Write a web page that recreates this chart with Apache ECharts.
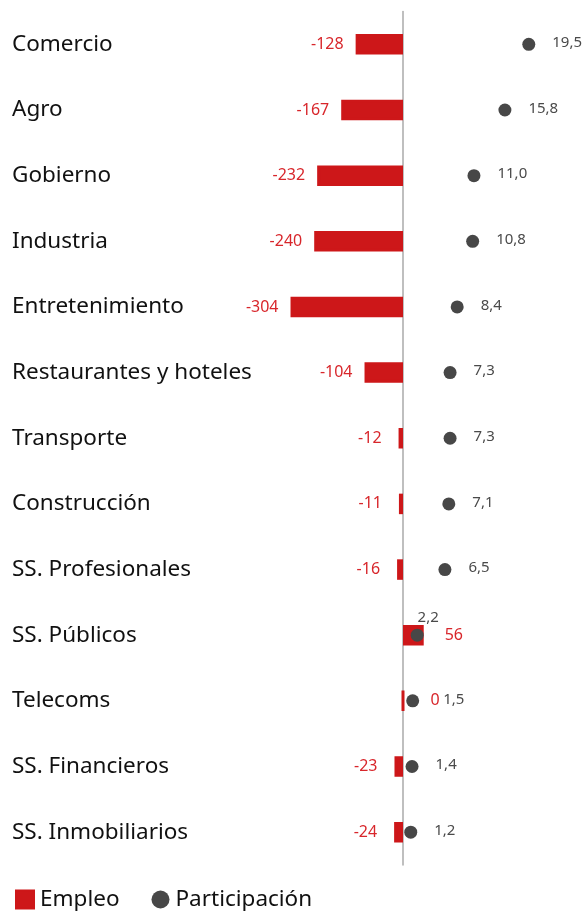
<!DOCTYPE html>
<html>
<head>
<meta charset="utf-8">
<script src="https://cdn.jsdelivr.net/npm/echarts@6/dist/echarts.min.js"></script>
<style>
  html, body { margin: 0; padding: 0; background: #fff; }
  #chart { width: 586px; height: 912px; }
</style>
</head>
<body>
<div id="chart"></div>
<script>
// sectores
const categorias = [
  'Comercio', 'Agro', 'Gobierno', 'Industria', 'Entretenimiento',
  'Restaurantes y hoteles', 'Transporte', 'Construcción', 'SS. Profesionales',
  'SS. Públicos', 'Telecoms', 'SS. Financieros', 'SS. Inmobiliarios'
];
// variación del empleo (miles)
const empleo = [-128, -167, -232, -240, -304, -104, -12, -11, -16, 56, 0, -23, -24];
// participación (%)
const participacion = [19.5, 15.8, 11.0, 10.8, 8.4, 7.3, 7.3, 7.1, 6.5, 2.2, 1.5, 1.4, 1.2];

const ROJO = '#cd1719';
const ROJO_TEXTO = '#d8262b';
const GRIS = '#474747';
const FUENTE = 'Noto Sans';

const chart = echarts.init(document.getElementById('chart'));

// etiquetas de barras: las cortas quedan un poco más lejos
const datosEmpleo = empleo.map(v => {
  let label;
  if (v > 0) label = { position: 'right', distance: 21 };
  else if (v === 0) label = { position: 'right', distance: 26 };
  else label = { position: 'left', distance: Math.abs(v) >= 100 ? 12 : 17 };
  return { value: v, label: label };
});

// puntos: ajustes para los que chocan con la etiqueta de la barra
const ajustesPuntos = {
  'SS. Públicos': { position: 'top', distance: 3, offset: [11, 0] },
  'Telecoms': { position: 'right', distance: 24 }
};
const datosPart = participacion.map((v, i) => {
  const item = { value: v };
  if (ajustesPuntos[categorias[i]]) item.label = ajustesPuntos[categorias[i]];
  return item;
});

chart.setOption({
  animation: false,
  textStyle: { fontFamily: FUENTE },
  grid: { left: 0, right: 0, top: 11.5, height: 853.5, outerBoundsMode: 'none', containLabel: false },
  legend: {
    left: 15,
    top: 888,
    padding: 0,
    itemWidth: 18,
    itemHeight: 18,
    itemGap: 32,
    textStyle: { fontSize: 22.5, color: '#111', fontFamily: FUENTE, padding: [0, 0, 0, 1] },
    data: [
      { name: 'Empleo', icon: 'rect' },
      { name: 'Participación', icon: 'circle' }
    ]
  },
  xAxis: [
    // escala de empleo: cero en x=403, 0.37 px por unidad
    { type: 'value', min: -403 / 0.37, max: 183 / 0.37, show: false },
    // escala de participación: cero en x=403, 6.45 px por unidad
    { type: 'value', min: -403 / 6.45, max: 183 / 6.45, show: false }
  ],
  yAxis: {
    type: 'category',
    data: categorias,
    inverse: true,
    axisLine: {
      onZero: true,
      onZeroAxisIndex: 0,
      lineStyle: { color: '#aaa', width: 1.5 }
    },
    axisTick: { show: false },
    axisLabel: {
      align: 'left',
      margin: -12,
      padding: [6, 0, 0, 0],
      fontSize: 22.5,
      color: '#111',
      fontFamily: FUENTE
    },
    splitLine: { show: false }
  },
  series: [
    {
      name: 'Empleo',
      type: 'bar',
      xAxisIndex: 0,
      barWidth: 20.5,
      itemStyle: { color: ROJO, borderColor: ROJO, borderWidth: 3 },
      label: {
        show: true,
        fontSize: 16,
        color: ROJO_TEXTO,
        fontFamily: FUENTE
      },
      data: datosEmpleo
    },
    {
      name: 'Participación',
      type: 'scatter',
      xAxisIndex: 1,
      symbolSize: 13,
      itemStyle: { color: GRIS, opacity: 1 },
      label: {
        show: true,
        position: 'right',
        distance: 17,
        offset: [0, -1.5],
        fontSize: 15,
        color: '#4a4a4a',
        fontFamily: FUENTE,
        formatter: p => p.value.toFixed(1).replace('.', ',')
      },
      data: datosPart,
      z: 3
    }
  ]
});
</script>
</body>
</html>
